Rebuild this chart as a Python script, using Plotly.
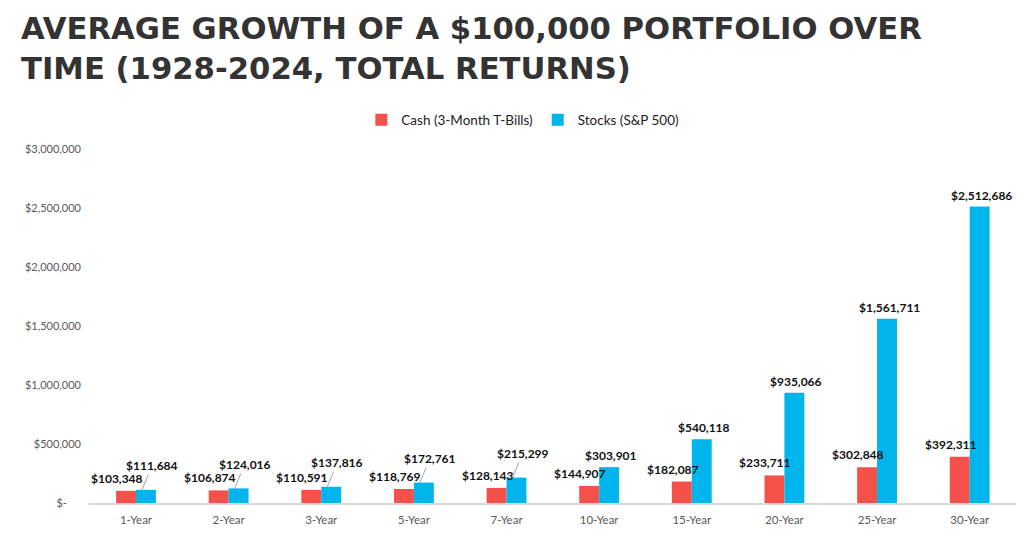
import plotly.graph_objects as go

# Average growth of $100,000 (1928-2024)
periods = ["1-Year", "2-Year", "3-Year", "5-Year", "7-Year",
           "10-Year", "15-Year", "20-Year", "25-Year", "30-Year"]
cash = [103348, 106874, 110591, 118769, 128143,
        144907, 182087, 233711, 302848, 392311]
stocks = [111684, 124016, 137816, 172761, 215299,
          303901, 540118, 935066, 1561711, 2512686]

ytick_vals = [0, 500000, 1000000, 1500000, 2000000, 2500000, 3000000]
ytick_text = ["$-\u00a0\u00a0\u00a0\u00a0\u00a0", "$500,000", "$1,000,000", "$1,500,000",
              "$2,000,000", "$2,500,000", "$3,000,000"]

RED = "#F5514A"
BLUE = "#00B5EC"

fig = go.Figure()
fig.add_trace(go.Bar(name="Cash (3-Month T-Bills)", x=periods, y=cash,
                     marker=dict(color=RED, line=dict(width=0))))
fig.add_trace(go.Bar(name="Stocks (S&P 500)", x=periods, y=stocks,
                     marker=dict(color=BLUE, line=dict(width=0))))

label_font = dict(family="Lato", size=12, color="#111111", weight="bold")

annotations = [dict(
    text="AVERAGE GROWTH OF A $100,000 PORTFOLIO OVER<br>TIME (1928-2024, TOTAL RETURNS)",
    xref="paper", yref="paper", x=-0.075, y=1.395, xanchor="left", yanchor="top",
    align="left", showarrow=False,
    font=dict(family="DejaVu Sans", size=30.7, color="#333333", weight="bold"),
)]
for i, p in enumerate(periods):
    # cash label sits above the red bar, pushed a bit left
    annotations.append(dict(x=p, y=cash[i], xref="x", yref="y",
                            text=f"${cash[i]:,}", showarrow=False,
                            xshift=-19, yshift=3, yanchor="bottom",
                            font=label_font))
    if i < 5:
        # small values: label lifted with a thin leader line
        annotations.append(dict(x=p, y=stocks[i], xref="x", yref="y",
                                text=f"${stocks[i]:,}", showarrow=True,
                                arrowhead=0, arrowwidth=1, arrowcolor="#a6a6a6",
                                xshift=6, ax=10, ay=-24,
                                font=label_font))
    else:
        annotations.append(dict(x=p, y=stocks[i], xref="x", yref="y",
                                text=f"${stocks[i]:,}", showarrow=False,
                                xshift=12, yshift=2, yanchor="bottom",
                                font=label_font))

# page has an 8px body margin, so the figure is sized to fit inside it
fig.update_layout(
    width=1008, height=522,
    template="plotly_white",
    paper_bgcolor="white", plot_bgcolor="white",
    barmode="group", bargap=0.57, bargroupgap=0,
    legend=dict(orientation="h", x=0.468, xanchor="center", y=1.082, yanchor="middle",
                font=dict(family="Lato", size=13.5, color="#222222"),
                itemwidth=30, traceorder="normal"),
    margin=dict(l=81, r=0, t=141, b=27),
    annotations=annotations,
    showlegend=True,
)
fig.update_xaxes(showgrid=False, showline=True, linecolor="#d9d9d9", linewidth=1.5,
                 ticks="", ticklabelstandoff=5,
                 tickfont=dict(family="Lato", size=11.5, color="#595959"))
fig.update_yaxes(range=[0, 3000000], tickvals=ytick_vals, ticktext=ytick_text,
                 showgrid=False, zeroline=False, ticks="", ticklabelstandoff=7,
                 tickfont=dict(family="Lato", size=11, color="#595959"))

fig.write_html("out.html")
